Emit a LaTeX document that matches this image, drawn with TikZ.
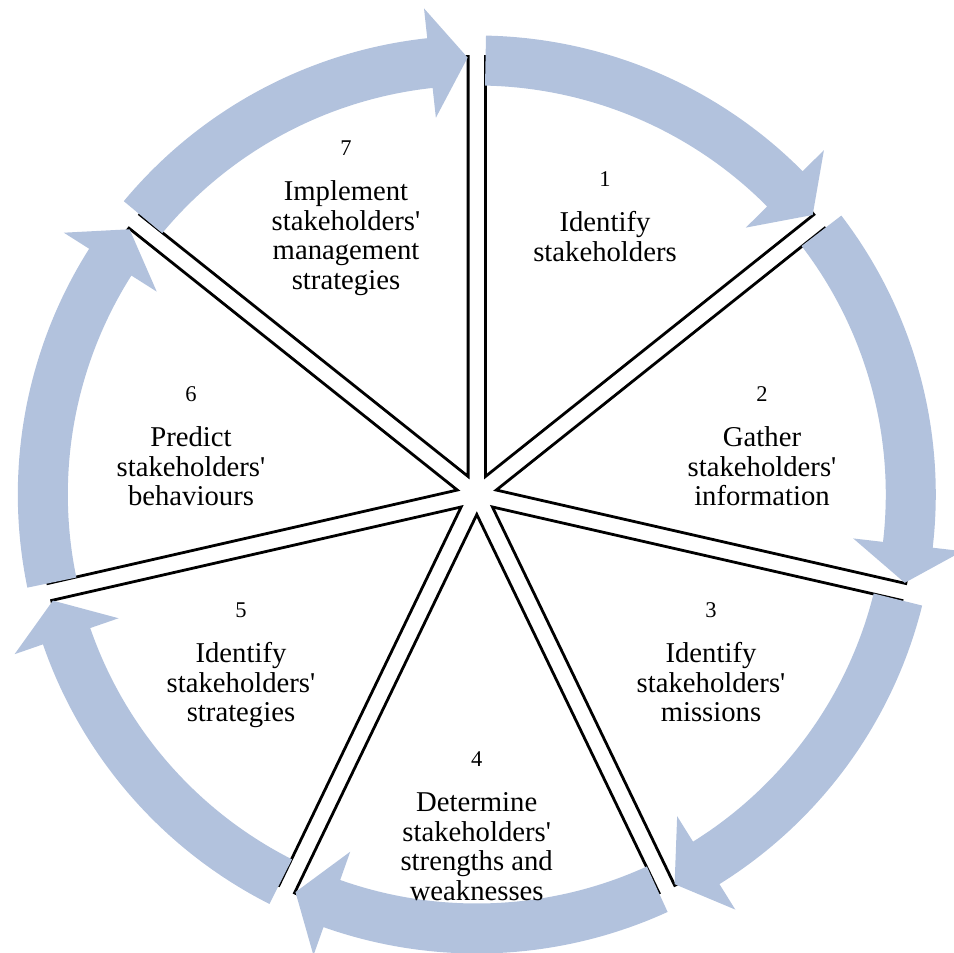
\documentclass[tikz,border=0pt]{standalone}
\usepackage{fontspec}
\setmainfont{Liberation Serif}
\usetikzlibrary{calc}
\definecolor{cyclefill}{RGB}{178,194,221}
\tikzset{
  sector/.style={draw=black, line width=2.8pt, fill=white, line join=miter},
  cyclearrow/.style={fill=cyclefill, draw=none},
  stepnum/.style={font=\fontsize{22.5}{26}\selectfont, anchor=base, inner sep=0pt},
  stepline/.style={font=\fontsize{28.7}{30}\selectfont, anchor=base, inner sep=0pt},
}
\newcommand{\sq}{\textquotesingle}
\begin{document}
\begin{tikzpicture}[x=1pt,y=1pt]
\useasboundingbox (0,0) rectangle (953,-953);
\coordinate (C) at (476.8,-494.5);
\def\sectorangle{51.428571}

% exploded pie slices
\foreach \k in {1,...,7}{
  \pgfmathsetmacro{\aone}{90-\sectorangle*(\k-1)}
  \pgfmathsetmacro{\atwo}{\aone-\sectorangle}
  \pgfmathsetmacro{\amid}{\aone-\sectorangle/2}
  \coordinate (apex\k) at ($(C)+(\amid:20pt)$);
  \draw[sector] (apex\k) -- ++(\aone:420pt)
     arc[start angle=\aone, end angle=\atwo, radius=420pt] -- cycle;
}

% curved arrows around the cycle
\foreach \k in {1,...,7}{
  \pgfmathsetmacro{\startang}{90-\sectorangle*(\k-1)-1.15}
  \pgfmathsetmacro{\tipang}{90-\sectorangle*\k+1.2}
  \pgfmathsetmacro{\backang}{\tipang+5}
  \fill[cyclearrow] ($(C)+(\startang:459pt)$)
     arc[start angle=\startang, end angle=\backang, radius=459pt]
     -- ($(C)+(\backang:489pt)$)
     -- ($(C)+(\tipang:437pt)$)
     -- ($(C)+(\backang:379pt)$)
     -- ($(C)+(\backang:409pt)$)
     arc[start angle=\backang, end angle=\startang, radius=409pt] -- cycle;
}

% step 1
\node[stepnum]  (n1)  at (605,-186.7) {1};
\node[stepline] (t1a) at (605,-231.7) {Identify};
\node[stepline] (t1b) at (605,-261.2) {stakeholders};
% step 2
\node[stepnum]  (n2)  at (762,-401.7) {2};
\node[stepline] (t2a) at (762,-446.7) {Gather};
\node[stepline] (t2b) at (762,-476.2) {stakeholders\sq};
\node[stepline] (t2c) at (762,-505.7) {information};
% step 3
\node[stepnum]  (n3)  at (711,-617.5) {3};
\node[stepline] (t3a) at (711,-662.5) {Identify};
\node[stepline] (t3b) at (711,-692.0) {stakeholders\sq};
\node[stepline] (t3c) at (711,-721.5) {missions};
% step 4
\node[stepnum]  (n4)  at (476.7,-766.7) {4};
\node[stepline] (t4a) at (476.7,-811.7) {Determine};
\node[stepline] (t4b) at (476.7,-841.2) {stakeholders\sq};
\node[stepline] (t4c) at (476.7,-870.7) {strengths and};
\node[stepline] (t4d) at (476.7,-900.2) {weaknesses};
% step 5
\node[stepnum]  (n5)  at (241,-617.5) {5};
\node[stepline] (t5a) at (241,-662.5) {Identify};
\node[stepline] (t5b) at (241,-692.0) {stakeholders\sq};
\node[stepline] (t5c) at (241,-721.5) {strategies};
% step 6
\node[stepnum]  (n6)  at (191,-401.7) {6};
\node[stepline] (t6a) at (191,-446.7) {Predict};
\node[stepline] (t6b) at (191,-476.2) {stakeholders\sq};
\node[stepline] (t6c) at (191,-505.7) {behaviours};
% step 7
\node[stepnum]  (n7)  at (346,-155.7) {7};
\node[stepline] (t7a) at (346,-200.7) {Implement};
\node[stepline] (t7b) at (346,-230.2) {stakeholders\sq};
\node[stepline] (t7c) at (346,-259.7) {management};
\node[stepline] (t7d) at (346,-289.2) {strategies};
\end{tikzpicture}
\end{document}
